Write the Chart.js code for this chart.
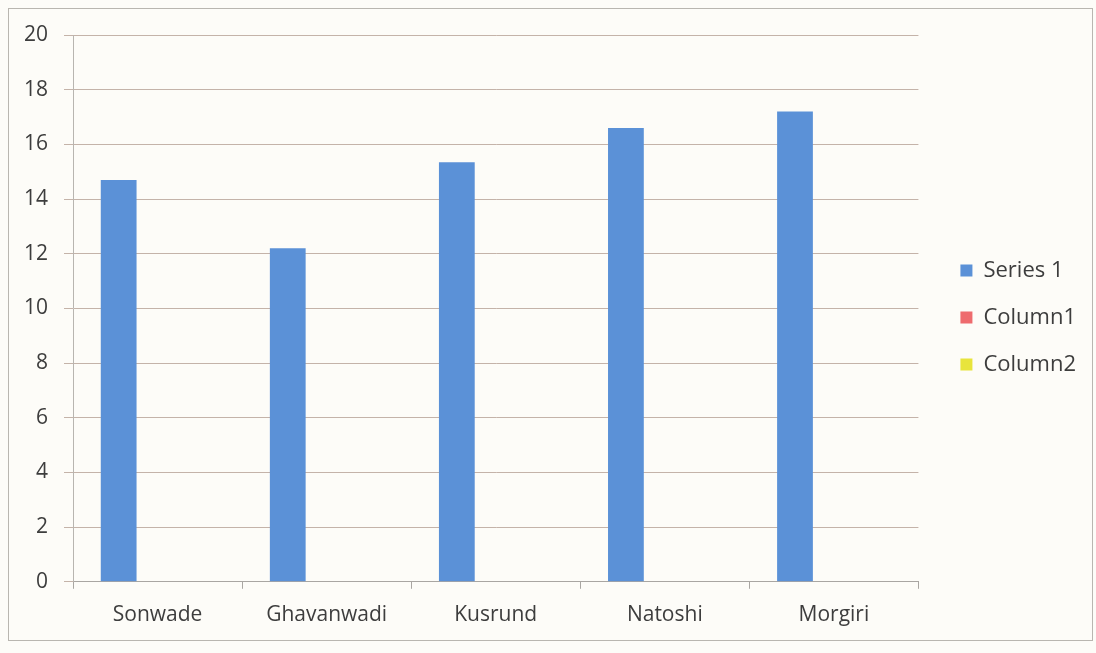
<!DOCTYPE html>
<html>
<head>
<meta charset="utf-8">
<script src="https://cdn.jsdelivr.net/npm/chart.js@4.4.1/dist/chart.umd.min.js"></script>
<style>
  html, body { margin: 0; padding: 0; background: #fdfcf8; }
  #wrap { position: absolute; left: 0; top: 0; width: 1096px; height: 653px; }
  #frame { position: absolute; left: 8px; top: 8px; width: 1083px; height: 631px; border: 1.5px solid #b9b6b0; }
</style>
</head>
<body>
<div id="wrap">
  <div id="frame"></div>
  <canvas id="grafico" width="1096" height="653"></canvas>
</div>
<script>
const aldeas = ["Sonwade", "Ghavanwadi", "Kusrund", "Natoshi", "Morgiri"];
const serie1 = [14.7, 12.2, 15.35, 16.6, 17.2];
const columna1 = [null, null, null, null, null];
const columna2 = [null, null, null, null, null];
const ticksY = [0, 2, 4, 6, 8, 10, 12, 14, 16, 18, 20];

const fuente = "'Open Sans', sans-serif";

// sube un poco la leyenda respecto al centro del lienzo
const subirLeyenda = {
  id: "subirLeyenda",
  afterLayout(chart) {
    const ley = chart.legend;
    ley.top -= 21;
    ley.bottom -= 21;
  }
};

const ctx = document.getElementById("grafico").getContext("2d");

new Chart(ctx, {
  type: "bar",
  data: {
    labels: aldeas,
    datasets: [
      { label: "Series 1", data: serie1, backgroundColor: "#5b91d7" },
      { label: "Column1", data: columna1, backgroundColor: "#ee6b6e" },
      { label: "Column2", data: columna2, backgroundColor: "#e8e43c" }
    ]
  },
  plugins: [subirLeyenda],
  options: {
    responsive: false,
    animation: false,
    categoryPercentage: 0.69,
    barPercentage: 0.92,
    layout: { padding: { top: 35, left: 8, right: 10, bottom: 11 } },
    scales: {
      x: {
        grid: {
          offset: true,
          drawOnChartArea: false,
          tickLength: 7,
          color: "#a9a6a2"
        },
        border: { color: "#a9a6a2", width: 1 },
        ticks: {
          color: "#3d3d3d",
          padding: 14,
          font: { family: fuente, size: 21 }
        }
      },
      y: {
        min: 0,
        max: 20,
        afterBuildTicks: (eje) => {
          eje.ticks = ticksY.map((v) => ({ value: v }));
        },
        grid: { color: "#c4b3a9", tickLength: 9 },
        border: { color: "#b8b5b0", width: 1 },
        ticks: {
          color: "#3d3d3d",
          padding: 16,
          font: { family: fuente, size: 21 }
        }
      },
      // espacio vacío entre el área del gráfico y la leyenda
      margen: {
        position: "right",
        afterFit: (eje) => { eje.width = 17; },
        grid: { display: false },
        border: { display: false },
        ticks: { display: false }
      }
    },
    plugins: {
      legend: {
        position: "right",
        labels: {
          boxWidth: 12,
          boxHeight: 12,
          padding: 25,
          color: "#3d3d3d",
          font: { family: fuente, size: 22 }
        }
      },
      tooltip: { enabled: false }
    }
  }
});
</script>
</body>
</html>
